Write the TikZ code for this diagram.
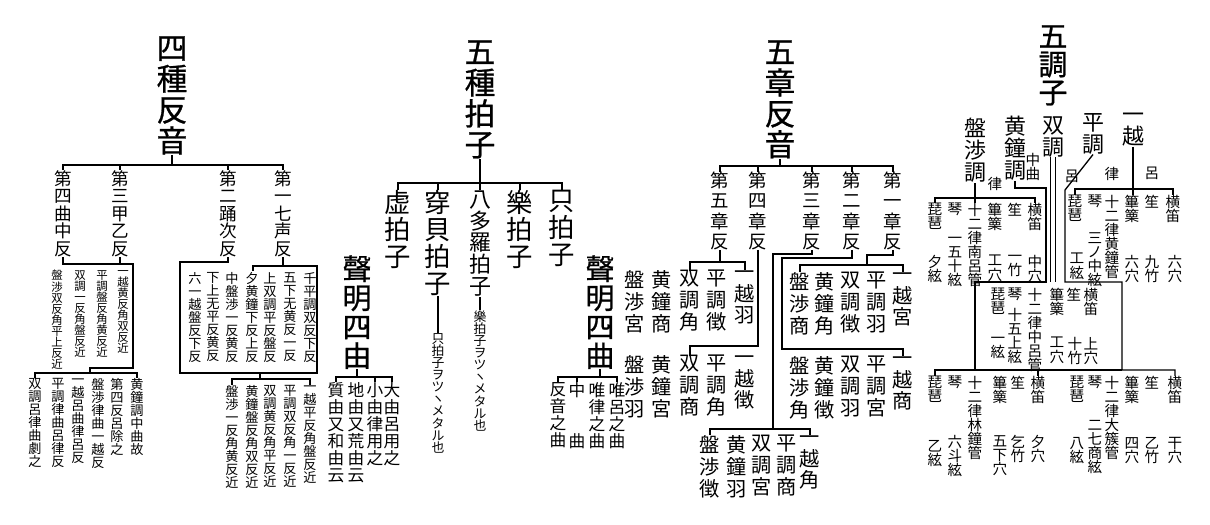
\documentclass[tikz,border=0pt]{standalone}
\usepackage{fontspec}
\setmainfont{Noto Sans CJK JP}
\newfontfamily\titlefont{Noto Sans CJK JP}[FakeBold=0.8]
\usetikzlibrary{positioning}
\setlength{\lineskiplimit}{-\maxdimen}

% one character per line
\ExplSyntaxOn
\NewDocumentCommand \tate { m }
  {
    \tl_set:Nx \l_tmpa_tl { #1 }
    \seq_set_split:NnV \l_tmpa_seq { } \l_tmpa_tl
    \seq_use:Nn \l_tmpa_seq { \\ }
  }
\ExplSyntaxOff

\tikzset{
  % Column styles
  tatecol/.style={anchor=north, inner sep=0pt, align=center},
  titlecol/.style={tatecol, font=\titlefont\fontsize{17.5}{17.6}\selectfont},
  choshicol/.style={tatecol, font=\titlefont\fontsize{16.5}{16}\selectfont},
  songcol/.style={tatecol, font=\titlefont\fontsize{16.5}{16.5}\selectfont},
  headcol/.style={tatecol, font=\fontsize{15}{15.4}\selectfont},
  subcol/.style={tatecol, font=\fontsize{12.5}{12.5}\selectfont},
  notecol/.style={tatecol, font=\fontsize{11.5}{12.5}\selectfont},
  chapcol/.style={tatecol, font=\fontsize{10.5}{11.4}\selectfont},
  midcol/.style={tatecol, font=\fontsize{10}{10}\selectfont},
  verscol/.style={tatecol, font=\fontsize{9.5}{9.7}\selectfont},
  instcol/.style={tatecol, font=\fontsize{8.3}{8}\selectfont},
  smallcol/.style={tatecol, font=\fontsize{7.5}{7.4}\selectfont},
  kanacol/.style={tatecol, font=\fontsize{7.3}{6.9}\selectfont},
  tinycol/.style={tatecol, font=\fontsize{6.5}{6.3}\selectfont},
  % Line styles
  wire/.style={draw, line width=0.75pt}
}

\begin{document}
\begin{tikzpicture}[x=0.02cm, y=-0.02cm]
  \useasboundingbox (0,0) rectangle (1210,524);

  % 四種反音
  \node[titlecol] (hanon) at (172,36) {\tate{四種反音}};
  \coordinate (hanonbar) at (172,165);
  \node[midcol] (hanon1) at (63,170) {\tate{第四曲中反}};
  \node[midcol] (hanon2) at (120,170) {\tate{第三甲乙反}};
  \node[midcol] (hanon3) at (228,170) {\tate{第二踊次反}};
  \node[midcol] (hanon4) at (283,170) {\tate{第一七声反}};
  \draw[wire] (hanon.south) -- (hanonbar);
  \draw[wire] (hanon1.north) |- (hanonbar) -| (hanon4.north);
  \foreach \n in {hanon2, hanon3} \draw[wire] (\n.north) -- (\n.north |- hanonbar);

  \foreach \x/\txt [count=\i] in {123/一越黄反角双反近, 102/平調盤反角黄反近, 80/双調一反角盤反近, 57/盤渉双反角平上反近}
    \node[tinycol] (sanA\i) at (\x,270) {\tate{\txt}};
  \draw[wire] (hanon1.south) |- (133,264) |- (90,368) -- (90,373);
  \draw[wire] (hanon2.south) -- (hanon2.south |- 0,264);
  \foreach \x/\txt [count=\i] in {137/黄鐘調中曲故, 117/第四反呂除之, 98/盤渉律曲一越反, 78/一越呂曲律呂反, 58/平調律曲呂律反, 35/双調呂律曲劇之}
    \node[smallcol] (sanB\i) at (\x,378) {\tate{\txt}};
  \draw[wire] (sanB6.north) |- (sanB1.north |- 0,373) -- (sanB1.north);

  \draw[wire] (hanon3.south) |- (180,262) |- (317,373) |- (253,266) -- (253,271);
  \draw[wire] (hanon4.south) -- (hanon4.south |- 0,266);
  \foreach \x/\txt [count=\i] in {310/千平調双反下反, 290/五下无黄反一反, 270/上双調平反盤反, 252/夕黄鐘下反上反, 232/中盤渉一反黄反, 213/下上无平反黄反, 195/六一越盤反下反}
    \node[smallcol] (niA\i) at (\x,272) {\tate{\txt}};
  \foreach \x/\txt [count=\i] in {310/一越平反角盤反近, 290/平調双反角一反近, 270/双調黄反角平反近, 252/黄鐘盤反角双反近, 232/盤渉一反角黄反近}
    \node[smallcol] (niB\i) at (\x,385) {\tate{\txt}};
  \draw[wire] (niB5.north) |- (niB1.north |- 0,379) -- (niB1.north);
  \draw[wire] (260,373) -- (260,379);

  % 五種拍子
  \node[titlecol] (hyoshi) at (480,40) {\tate{五種拍子}};
  \coordinate (hyoshibar) at (480,183);
  \node[headcol] (hyoshi1) at (398,190) {\tate{虚拍子}};
  \node[headcol] (hyoshi2) at (438,190) {\tate{穿貝拍子}};
  \node[subcol] (hyoshi3) at (480,190) {\tate{八多羅拍子}};
  \node[headcol] (hyoshi4) at (520,190) {\tate{樂拍子}};
  \node[headcol] (hyoshi5) at (562,190) {\tate{只拍子}};
  \draw[wire] (hyoshi.south) -- (hyoshi3.north);
  \draw[wire] (hyoshi1.north) |- (hyoshibar) -| (hyoshi5.north);
  \foreach \n in {hyoshi2, hyoshi4} \draw[wire] (\n.north) -- (\n.north |- hyoshibar);
  \node[kanacol] (hyoshi2n) at (438,333) {\tate{只拍子ヲツヽメタル也}};
  \node[kanacol] (hyoshi3n) at (480,310) {\tate{樂拍子ヲツヽメタル也}};
  \draw[wire] (hyoshi2.south) -- (hyoshi2n.north);
  \draw[wire] (hyoshi3.south) -- (hyoshi3n.north);

  % 聲明四曲
  \node[songcol] (shomyoL) at (357,255) {\tate{聲明四由}};
  \coordinate (shomyoLbar) at (357,377);
  \foreach \x/\txt [count=\i] in {392/大由呂用之, 375/小由律用之, 356/地由又荒由云, 336/質由又和由云}
    \node[verscol] (shomyoL\i) at (\x,382) {\tate{\txt}};
  \draw[wire] (shomyoL.south) -- (shomyoLbar);
  \draw[wire] (shomyoL4.north) |- (shomyoLbar) -| (shomyoL1.north);
  \draw[wire] (shomyoL2.north) -- (shomyoL2.north |- shomyoLbar);

  \node[songcol] (shomyoR) at (600,255) {\tate{聲明四曲}};
  \coordinate (shomyoRbar) at (600,377);
  \foreach \x/\txt [count=\i] in {617/唯呂之曲, 597/唯律之曲, 577/中, 558/反音之曲}
    \node[verscol] (shomyoR\i) at (\x,382) {\tate{\txt}};
  \node[verscol] (shomyoR5) at (577,433) {曲};
  \draw[wire] (shomyoR.south) -- (shomyoRbar);
  \draw[wire] (shomyoR4.north) |- (shomyoRbar) -| (shomyoR1.north);
  \draw[wire] (shomyoR3.north) -- (shomyoR3.north |- shomyoRbar);

  % 五章反音
  \node[titlecol] (shoon) at (780,40) {\tate{五章反音}};
  \coordinate (shoonbar) at (780,166);
  \foreach \x/\txt [count=\i] in {893/第一章反, 852/第二章反, 812/第三章反, 758/第四章反, 720/第五章反}
    \node[chapcol] (shoon\i) at (\x,172) {\tate{\txt}};
  \draw[wire] (shoon.south) -- (shoonbar);
  \draw[wire] (shoon5.north) |- (shoonbar) -| (shoon1.north);
  \foreach \i in {2,3,4} \draw[wire] (shoon\i.north) -- (shoon\i.north |- shoonbar);

  \foreach \x/\txt [count=\i] in {903/一越宮, 877/平調羽, 851/双調徴, 825/黄鐘角, 800/盤渉商}
    \node[notecol] (dan1\i) at (\x,272) {\tate{\txt}};
  \draw[wire] (shoon1.south) |- (867,255) -- (867,265);
  \draw[wire] (dan15.north) |- (dan11.north |- 0,265) -- (dan11.north);

  \foreach \x/\txt [count=\i] in {903/一越商, 877/平調宮, 851/双調羽, 825/黄鐘徴, 800/盤渉角}
    \node[notecol] (dan2\i) at (\x,356) {\tate{\txt}};
  \draw[wire] (shoon2.south) |- (782,258) |- (dan21.north |- 0,349) -- (dan21.north);

  \foreach \x/\txt [count=\i] in {810/一越角, 787/平調商, 762/双調宮, 737/黄鐘羽, 710/盤渉徴}
    \node[notecol] (dan3\i) at (\x,435) {\tate{\txt}};
  \draw[wire] (shoon3.south) |- (773,254) -- (773,429);
  \draw[wire] (dan35.north) |- (dan31.north |- 0,429) -- (dan31.north);

  \foreach \x/\txt [count=\i] in {745/一越徴, 717/平調角, 690/双調商, 662/黄鐘宮, 635/盤渉羽}
    \node[notecol] (dan4\i) at (\x,355) {\tate{\txt}};
  \draw[wire] (shoon4.south) |- (dan43.north |- 0,346) -- (dan43.north);

  \foreach \x/\txt [count=\i] in {745/一越羽, 717/平調徴, 690/双調角, 662/黄鐘商, 635/盤渉宮}
    \node[notecol] (dan5\i) at (\x,270) {\tate{\txt}};
  \draw[wire] (dan53.north) |- (dan51.north |- 0,262) -- (dan51.north);
  \draw[wire] (shoon5.south) -- (shoon5.south |- 0,262);

  % 五調子
  \node[choshicol] (choshi) at (1053,25) {\tate{五調子}};
  \foreach \x/\y/\txt [count=\i] in {1133/113/一越, 1093/113/平調, 1053/116/双調, 1015/116/黄鐘調, 975/118/盤渉調}
    \node[subcol] (choshi\i) at (\x,\y) {\tate{\txt}};
  \foreach \x/\y/\txt [count=\i] in {1152/167/呂, 1112/167/律, 1072/170/呂, 1033/153/中曲, 995/177/律}
    \node[instcol] (ryoritsu\i) at (\x,\y) {\tate{\txt}};

  % 盤渉調
  \foreach \x/\txt [count=\i] in {935/琵琶, 955/琴, 975/十二律南呂管, 995/篳篥, 1015/笙, 1035/横笛}
    \node[instcol] (banshiki\i) at (\x,203) {\tate{\txt}};
  \foreach \x/\y/\txt [count=\i] in {935/255/夕絃, 955/237/一五十絃, 995/255/工穴, 1015/255/一竹, 1035/255/中穴}
    \node[instcol] (banshikiv\i) at (\x,\y) {\tate{\txt}};
  \draw[wire] (choshi5.south) -- (banshiki3.north);
  \draw[wire] (banshiki1.north) |- (banshiki6.north |- 0,198) -- (banshiki6.north);

  % 一越調
  \foreach \x/\txt [count=\i] in {1075/琵琶, 1095/琴, 1112/十二律黄鐘管, 1132/篳篥, 1152/笙, 1173/横笛}
    \node[instcol] (ichikotsu\i) at (\x,195) {\tate{\txt}};
  \foreach \x/\y/\txt [count=\i] in {1077/253/工絃, 1095/232/三ノ中絃, 1132/255/六穴, 1152/255/九竹, 1175/255/六穴}
    \node[instcol] (ichikotsuv\i) at (\x,\y) {\tate{\txt}};
  \draw[wire] (choshi1.south) -- (choshi1.south |- ichikotsu4.north);
  \draw[wire] (ichikotsu1.north) |- (ichikotsu6.north |- 0,189) -- (ichikotsu6.north);

  % 双調
  \foreach \x/\txt [count=\i] in {998/琵琶, 1015/琴, 1035/十二律中呂管, 1057/篳篥, 1074/笙, 1091/横笛}
    \node[instcol] (sojo\i) at (\x,288) {\tate{\txt}};
  \foreach \x/\y/\txt [count=\i] in {998/337/一絃, 1015/308/十五上絃, 1057/337/工穴, 1075/337/十竹, 1091/337/上穴}
    \node[instcol] (sojov\i) at (\x,\y) {\tate{\txt}};
  \draw[wire, double, double distance=2.4pt] (choshi3.south) -- (choshi3.south |- 0,282);

  % 黄鐘調
  \foreach \x/\txt [count=\i] in {935/琵琶, 955/琴, 975/十二律林鐘管, 1000/篳篥, 1018/笙, 1038/横笛}
    \node[instcol] (oshiki\i) at (\x,376) {\tate{\txt}};
  \foreach \x/\y/\txt [count=\i] in {935/440/乙絃, 955/435/六斗絃, 1000/435/五下穴, 1018/435/乞竹, 1038/435/夕穴}
    \node[instcol] (oshikiv\i) at (\x,\y) {\tate{\txt}};
  \draw[wire] (choshi4.south) |- (1046,188) -- (1046,282) -| (975,370) -- (1122,370);
  \draw[wire] (oshiki1.north) |- (oshiki6.north |- 0,370) -- (oshiki6.north);

  % 平調
  \foreach \x/\txt [count=\i] in {1077/琵琶, 1095/琴, 1112/十二律大簇管, 1132/篳篥, 1152/笙, 1175/横笛}
    \node[instcol] (hyojo\i) at (\x,376) {\tate{\txt}};
  \foreach \x/\y/\txt [count=\i] in {1077/437/八絃, 1095/420/二七商絃, 1132/437/四穴, 1152/437/乙竹, 1175/437/干穴}
    \node[instcol] (hyojov\i) at (\x,\y) {\tate{\txt}};
  \draw[wire] (choshi2.south) -- (1065,190) |- (1122,282) |- (hyojo6.north |- 0,370) -- (hyojo6.north);
\end{tikzpicture}
\end{document}
